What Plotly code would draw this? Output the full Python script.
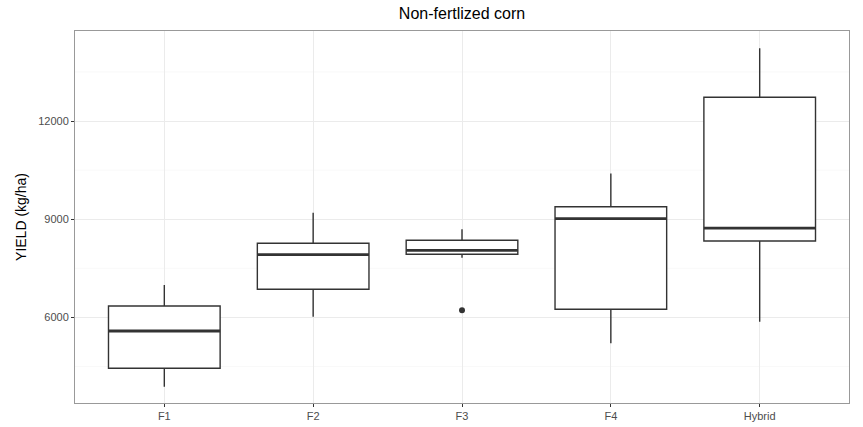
import plotly.graph_objects as go

categories = ["F1", "F2", "F3", "F4", "Hybrid"]
lower_whisker = [3880, 6020, 7825, 5210, 5870]
q1 = [4445, 6860, 7930, 6250, 8335]
median = [5585, 7915, 8050, 9015, 8730]
q3 = [6350, 8265, 8355, 9380, 12725]
upper_whisker = [6990, 9200, 8690, 10400, 14220]
outlier_cat = ["F3"]
outlier_val = [6220]

y_ticks = [6000, 9000, 12000]
minor_ticks = [4500, 7500, 10500, 13500]

FONT = "Liberation Sans, Arial, sans-serif"
LINE = "#333333"

fig = go.Figure()
fig.add_trace(go.Box(
    x=categories, q1=q1, median=median, q3=q3,
    lowerfence=lower_whisker, upperfence=upper_whisker,
    width=0.75, fillcolor="white",
    line=dict(color=LINE, width=1.4),
    whiskerwidth=0, boxpoints=False, showlegend=False, hoverinfo="y",
))
fig.add_trace(go.Scatter(
    x=outlier_cat, y=outlier_val, mode="markers",
    marker=dict(color=LINE, size=6), showlegend=False,
))

# thicker median lines (ggplot fatten = 2)
for i, m in enumerate(median):
    fig.add_shape(type="line", xref="x", yref="y",
                  x0=i - 0.375, x1=i + 0.375, y0=m, y1=m,
                  line=dict(color=LINE, width=2.8), layer="above")

# minor gridlines
for v in minor_ticks:
    fig.add_shape(type="line", xref="paper", yref="y", x0=0, x1=1, y0=v, y1=v,
                  line=dict(color="#F5F5F5", width=0.6), layer="below")

fig.update_layout(
    width=863, height=427,
    margin=dict(l=75, r=14, t=31, b=24, autoexpand=False),
    paper_bgcolor="white", plot_bgcolor="white",
    font=dict(family=FONT, color="#4D4D4D", size=11),
    title=dict(text="Non-fertlized corn", x=0.5, xanchor="center",
               xref="paper", y=1 - 13 / 427, yanchor="middle", yref="container",
               automargin=False,
               font=dict(family=FONT, size=16, color="black")),
    showlegend=False,
)
fig.update_xaxes(
    type="category", categoryorder="array", categoryarray=categories,
    range=[-0.6, 4.6], automargin=False,
    showgrid=True, gridcolor="#EBEBEB", gridwidth=1,
    showline=True, linecolor="#999999", linewidth=1, mirror=True,
    ticks="outside", ticklen=3, tickcolor=LINE, tickwidth=1,
    tickfont=dict(family=FONT, size=11, color="#4D4D4D"),
    zeroline=False,
)
fig.update_yaxes(
    range=[3385, 14750], automargin=False,
    tickvals=y_ticks, ticktext=[str(v) for v in y_ticks],
    showgrid=True, gridcolor="#EBEBEB", gridwidth=1,
    showline=True, linecolor="#999999", linewidth=1, mirror=True,
    ticks="outside", ticklen=3, tickcolor=LINE, tickwidth=1,
    tickfont=dict(family=FONT, size=11, color="#4D4D4D"),
    title=dict(text="YIELD (kg/ha)", font=dict(family=FONT, size=14, color="black"), standoff=8),
    zeroline=False,
)

fig.write_html("out.html", config={"displayModeBar": False},
               post_script="document.body.style.margin='0';document.body.style.padding='0';")
